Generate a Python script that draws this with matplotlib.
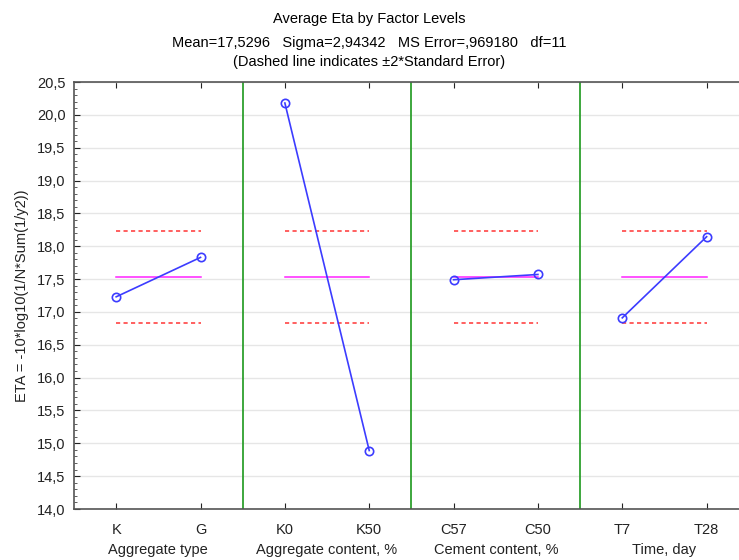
import matplotlib
matplotlib.use("Agg")
import matplotlib.pyplot as plt
from matplotlib.ticker import MultipleLocator, FuncFormatter

plt.rcParams['font.family'] = ['Liberation Sans', 'DejaVu Sans']

factors = ["Aggregate type", "Aggregate content, %", "Cement content, %", "Time, day"]
levels = [["K", "G"], ["K0", "K50"], ["C57", "C50"], ["T7", "T28"]]
eta_values = [[17.23, 17.83], [20.18, 14.89], [17.49, 17.57], [16.91, 18.145]]
mean_eta = 17.5296
two_se = 0.696

fig = plt.figure(figsize=(7.39, 5.60), dpi=100)
ax = fig.add_axes([74/739, 1-509/560, 1-74/739, (509-82)/560])

ticks = []
labels = []
for i, (lv, vals) in enumerate(zip(levels, eta_values)):
    xs = [i + 0.25, i + 0.75]
    ax.plot(xs, [mean_eta, mean_eta], color='#ff22ff', lw=1.1, zorder=3)
    ax.plot(xs, [mean_eta + two_se] * 2, color='#ff4444', lw=1.2, ls=(0, (2.5, 2)), zorder=3)
    ax.plot(xs, [mean_eta - two_se] * 2, color='#ff4444', lw=1.2, ls=(0, (2.5, 2)), zorder=3)
    ax.plot(xs, vals, color='#3c3cff', lw=1.2, marker='o', ms=6, mfc='none',
            mec='#3c3cff', mew=1.2, zorder=4)
    ticks += xs
    labels += lv
    if i > 0:
        ax.axvline(i, color='#2ea02e', lw=1.3, zorder=2)
    ax.text(i + 0.5, 3/560, factors[i], transform=ax.get_xaxis_transform() + 0 if False else
            matplotlib.transforms.blended_transform_factory(ax.transData, fig.transFigure),
            ha='center', va='bottom', fontsize=10.5, color='#222222')

ax.set_xlim(0, 665/168.7)
ax.set_ylim(14.0, 20.5)
ax.yaxis.set_major_locator(MultipleLocator(0.5))
ax.yaxis.set_minor_locator(MultipleLocator(0.1))
ax.yaxis.set_major_formatter(FuncFormatter(lambda v, p: f"{v:.1f}".replace('.', ',')))
ax.set_xticks(ticks)
ax.set_xticklabels(labels)
ax.grid(axis='y', color='#e6e6e6', lw=1.0, zorder=0)
ax.set_axisbelow(True)

ax.tick_params(axis='y', which='major', direction='in', length=4, labelsize=10.5,
               colors='#222222', pad=6)
ax.tick_params(axis='y', which='minor', direction='in', length=2, color='#444444')
ax.tick_params(axis='x', which='major', direction='in', length=4, labelsize=10.5,
               colors='#222222', pad=10, top=True)

for s in ['left', 'bottom', 'top']:
    ax.spines[s].set_color('#555555')
    ax.spines[s].set_linewidth(1.2)
ax.spines['right'].set_visible(False)

ax.set_ylabel("ETA = -10*log10(1/N*Sum(1/y2))", fontsize=10.5, color='#222222', labelpad=6)

fig.text(0.5, 1 - 19/560, "Average Eta by Factor Levels", ha='center', va='center', fontsize=10.5)
fig.text(0.5, 1 - 43/560, "Mean=17,5296   Sigma=2,94342   MS Error=,969180   df=11",
         ha='center', va='center', fontsize=10.5)
fig.text(0.5, 1 - 62/560, "(Dashed line indicates \u00b12*Standard Error)", ha='center',
         va='center', fontsize=10.5)

fig.savefig("out.png", dpi=100)
